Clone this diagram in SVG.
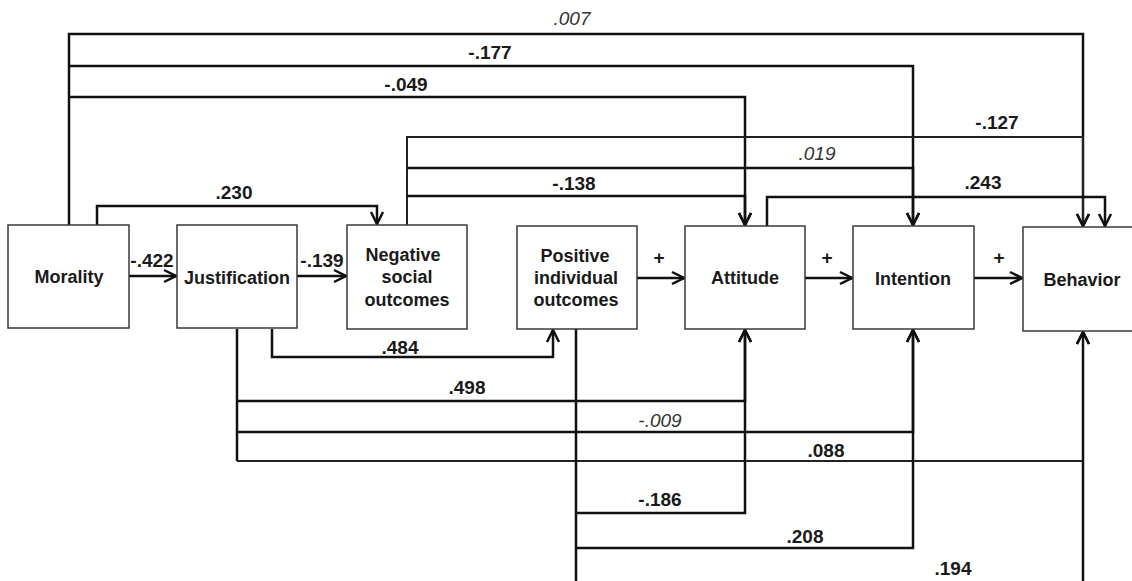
<svg xmlns="http://www.w3.org/2000/svg" width="1132" height="581" viewBox="0 0 1132 581">
<defs>
<style>
.box{fill:#fff;stroke:#3a3a3a;stroke-width:1.5}
.bt{font-family:"Liberation Sans",Arial,sans-serif;font-weight:bold;font-size:18px;fill:#1a1a1a;text-anchor:middle}
.lb{font-family:"Liberation Sans",Arial,sans-serif;font-weight:bold;font-size:19px;fill:#1a1a1a;text-anchor:middle}
.li{font-family:"Liberation Sans",Arial,sans-serif;font-style:italic;font-size:19px;fill:#333;text-anchor:middle}
.c{fill:none;stroke:#111;stroke-width:2.5}
.ct{fill:none;stroke:#222;stroke-width:2}
</style>
<marker id="ah" markerUnits="userSpaceOnUse" viewBox="-14 -8 16 16" refX="0" refY="0" markerWidth="16" markerHeight="16" orient="auto">
<path d="M-12,-6 L0,0 L-12,6" fill="none" stroke="#111" stroke-width="2.5"/>
</marker>
</defs>
<rect width="1132" height="581" fill="#fff"/>
<g id="connectors">
<path class="c" d="M69,225 V34 H1083 V226" marker-end="url(#ah)"/>
<path class="c" d="M69,66 H913 V225" marker-end="url(#ah)"/>
<path class="c" d="M69,97 H745 V225" marker-end="url(#ah)"/>
<path class="c" d="M97,225 V206 H377 V224" marker-end="url(#ah)"/>
<path class="c" d="M129,276 H176" marker-end="url(#ah)"/>
<path class="c" d="M297,276 H346" marker-end="url(#ah)"/>
<path class="ct" d="M407,225 V137 H1083 V226" marker-end="url(#ah)"/>
<path class="c" d="M407,168 H913 V225" marker-end="url(#ah)"/>
<path class="c" d="M407,196 H745 V225" marker-end="url(#ah)"/>
<path class="c" d="M767,226 V197 H1105 V226" marker-end="url(#ah)"/>
<path class="c" d="M637,278 H684" marker-end="url(#ah)"/>
<path class="c" d="M805,278 H852" marker-end="url(#ah)"/>
<path class="c" d="M974,278 H1022" marker-end="url(#ah)"/>
<path class="c" d="M272,329 V357 H553 V330" marker-end="url(#ah)"/>
<path class="c" d="M237,329 V461"/>
<path class="c" d="M237,401 H745 V330" marker-end="url(#ah)"/>
<path class="c" d="M237,432 H913 V330" marker-end="url(#ah)"/>
<path class="ct" d="M237,461 H1083 V332" marker-end="url(#ah)"/>
<path class="c" d="M576,329 V590"/>
<path class="c" d="M576,513 H745 V330" marker-end="url(#ah)"/>
<path class="c" d="M576,548 H913 V330" marker-end="url(#ah)"/>
<path class="c" d="M1083,590 V332" marker-end="url(#ah)"/>
</g>
<g id="labels">
<text class="li" x="572" y="25">.007</text>
<text class="lb" x="490" y="59">-.177</text>
<text class="lb" x="406" y="91">-.049</text>
<text class="lb" x="997" y="129">-.127</text>
<text class="li" x="817" y="160">.019</text>
<text class="lb" x="574" y="190">-.138</text>
<text class="lb" x="983" y="189">.243</text>
<text class="lb" x="234" y="199">.230</text>
<text class="lb" x="152" y="267">-.422</text>
<text class="lb" x="322" y="267">-.139</text>
<text class="lb" x="659" y="264">+</text>
<text class="lb" x="827" y="264">+</text>
<text class="lb" x="999" y="264">+</text>
<text class="lb" x="400" y="354">.484</text>
<text class="lb" x="467" y="394">.498</text>
<text class="li" x="660" y="427">-.009</text>
<text class="lb" x="826" y="457">.088</text>
<text class="lb" x="660" y="506">-.186</text>
<text class="lb" x="805" y="543">.208</text>
<text class="lb" x="953" y="575">.194</text>
</g>
<g id="morality">
<rect class="box" x="8" y="225" width="121" height="103"/>
<text class="bt" x="69" y="283">Morality</text>
</g>
<g id="justification">
<rect class="box" x="177" y="225" width="120" height="103"/>
<text class="bt" x="237" y="284">Justification</text>
</g>
<g id="negative">
<rect class="box" x="347" y="225" width="120" height="104"/>
<text class="bt" x="403" y="261">Negative</text>
<text class="bt" x="407" y="283">social</text>
<text class="bt" x="407" y="306">outcomes</text>
</g>
<g id="positive">
<rect class="box" x="517" y="226" width="120" height="103"/>
<text class="bt" x="575" y="262">Positive</text>
<text class="bt" x="576" y="284">individual</text>
<text class="bt" x="576" y="306">outcomes</text>
</g>
<g id="attitude">
<rect class="box" x="685" y="226" width="120" height="103"/>
<text class="bt" x="745" y="284">Attitude</text>
</g>
<g id="intention">
<rect class="box" x="853" y="226" width="121" height="103"/>
<text class="bt" x="913" y="285">Intention</text>
</g>
<g id="behavior">
<rect class="box" x="1023" y="227" width="120" height="104"/>
<text class="bt" x="1082" y="286">Behavior</text>
</g>
</svg>
